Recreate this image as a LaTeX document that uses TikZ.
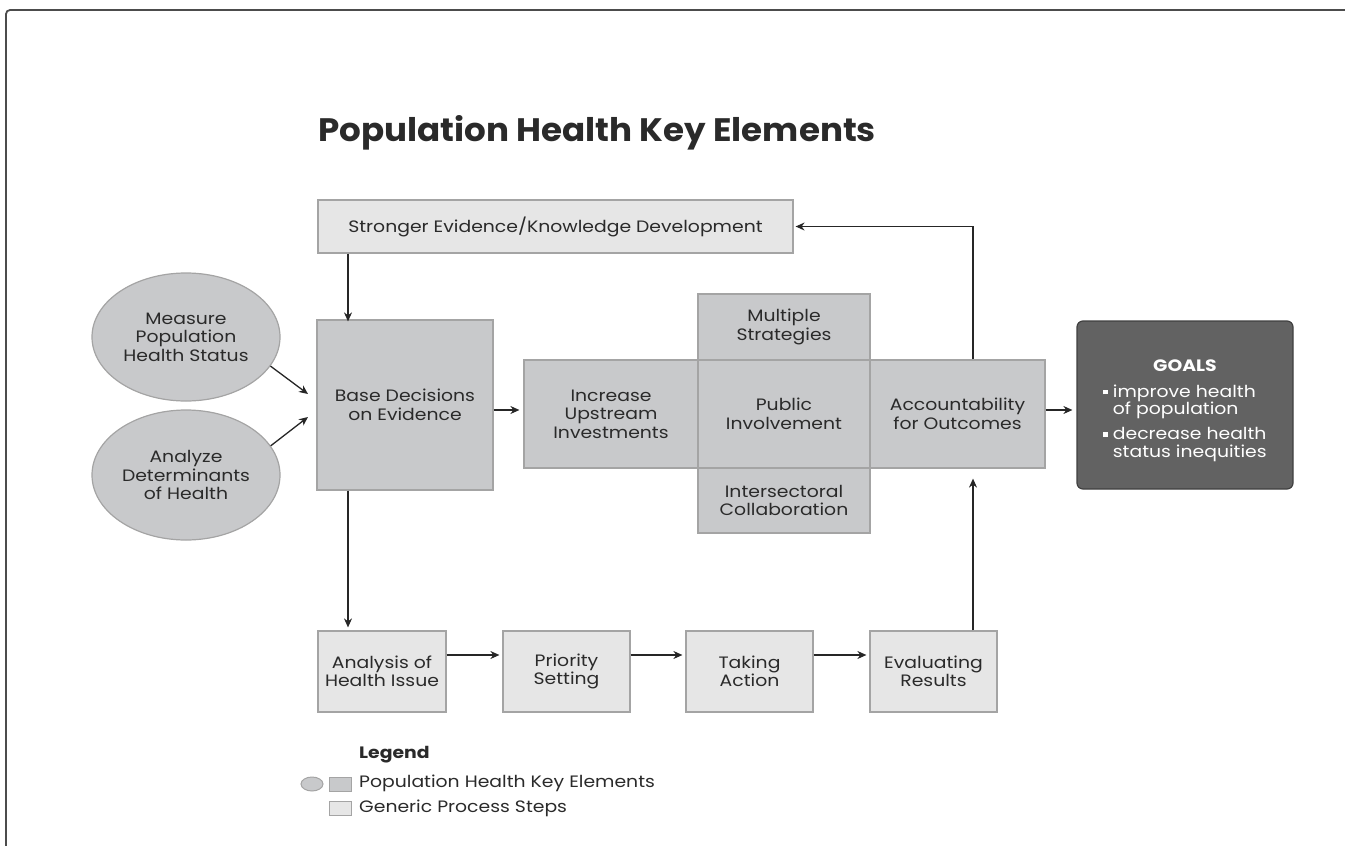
\documentclass[tikz,border=0pt]{standalone}
\usepackage{fontspec}
\setmainfont{Poppins}[FakeStretch=1.14]
\newfontfamily\titlefont{Poppins}[FakeStretch=1.05]
\usetikzlibrary{arrows.meta,shapes.geometric,calc}
\definecolor{keygray}{HTML}{C8C9CB}
\definecolor{stepgray}{HTML}{E6E6E6}
\definecolor{edgegray}{HTML}{A4A4A4}
\definecolor{goalgray}{HTML}{626262}
\definecolor{txt}{HTML}{2A2A2A}
\newcommand{\goalbullet}{\raisebox{3pt}{\rule{4.5pt}{4.5pt}}}
\begin{document}
\begin{tikzpicture}[x=1pt,y=-1pt,
  base/.style={inner sep=0pt, align=center, text=txt, font=\fontsize{16.5}{18.5}\selectfont, line width=1.2pt, draw=edgegray},
  keybox/.style={base, rectangle, fill=keygray},
  stepbox/.style={base, rectangle, fill=stepgray},
  keyell/.style={base, ellipse, fill=keygray},
  legtext/.style={anchor=west, font=\fontsize{16.5}{18.5}\selectfont, text=txt, inner sep=0pt},
  arr/.style={-{Stealth[length=9pt,width=8pt]}, line width=1.3pt, draw=black!85}
]
\useasboundingbox (0,0) rectangle (1345,846);
% frame
\draw[line width=1.8pt, black!70, rounded corners=4pt] (6,846) -- (6,10) -- (1345,10);

\node[anchor=west, font=\titlefont\fontsize{32.5}{36}\bfseries\selectfont, text=txt, inner sep=0pt] (title) at (318,133) {Population Health Key Elements};

\node[stepbox, minimum width=475, minimum height=53] (strong) at (555.5,226.5) {Stronger Evidence/Knowledge Development};
\node[keyell, minimum width=188, minimum height=128] (meas) at (186,337) {Measure\\Population\\Health Status};
\node[keyell, minimum width=188, minimum height=130] (anal) at (186,475) {Analyze\\Determinants\\of Health};
\node[keybox, minimum width=176, minimum height=170] (basedec) at (405,405) {Base Decisions\\on Evidence};
\node[keybox, minimum width=174, minimum height=108] (incr) at (611,414) {Increase\\Upstream\\Investments};
\node[keybox, minimum width=172, minimum height=108] (publ) at (784,414) {Public\\Involvement};
\node[keybox, minimum width=172, minimum height=66] (mult) at (784,327) {Multiple\\Strategies};
\node[keybox, minimum width=172, minimum height=65] (inter) at (784,500.5) {Intersectoral\\Collaboration};
\node[keybox, minimum width=175, minimum height=108] (acct) at (957.5,414) {Accountability\\for Outcomes};
\node[base, rectangle, rounded corners=6pt, fill=goalgray, draw=black!75, minimum width=216, minimum height=168, text=white,
      font=\fontsize{16.5}{16}\selectfont] (goals) at (1185,405)
 {\textbf{GOALS}\\[12pt]
  \begin{tabular}{@{}l@{\hspace{5pt}}l@{}}
  \goalbullet & improve health\\
   & of population\\[8pt]
  \goalbullet & decrease health\\
   & status inequities\\[-12pt]
  \end{tabular}};

\node[stepbox, minimum width=128, minimum height=81] (ahi) at (382,671.5) {Analysis of\\Health Issue};
\node[stepbox, minimum width=127, minimum height=81] (prio) at (566.5,671.5) {Priority\\Setting};
\node[stepbox, minimum width=127, minimum height=81] (take) at (749.5,671.5) {Taking\\Action};
\node[stepbox, minimum width=127, minimum height=81] (eval) at (933.5,671.5) {Evaluating\\Results};

% legend
\node[legtext, font=\fontsize{16.5}{18.5}\bfseries\selectfont] (leg) at (359,755) {Legend};
\node[keyell, minimum width=22, minimum height=14, line width=1pt] (lk1) at (312,784) {};
\node[keybox, minimum width=22, minimum height=14, line width=1pt] (lk2) at (340,784) {};
\node[stepbox, minimum width=22, minimum height=14, line width=1pt] (lk3) at (340,808.5) {};
\node[legtext] (lt1) at (359,783) {Population Health Key Elements};
\node[legtext] (lt2) at (359,808) {Generic Process Steps};

% connectors
\coordinate (cx1) at (348,0);
\coordinate (cx2) at (973,0);
\coordinate (ry1) at (0,410);
\coordinate (ry2) at (0,655);
\coordinate (m1) at (308,394);
\coordinate (m2) at (308,417);
\draw[arr] (strong.south -| cx1) -- ([yshift=-2pt]basedec.north -| cx1);
\draw[arr] (meas.-19) -- (m1);
\draw[arr] (anal.19) -- (m2);
\draw[arr, shorten >=4pt] (basedec.east |- ry1) -- (incr.west |- ry1);
\draw[arr, shorten >=4pt] (acct.east |- ry1) -- (goals.west |- ry1);
\draw[arr, shorten >=2pt] (acct.north -| cx2) |- (strong.east);
\draw[arr, shorten >=10pt] (eval.north -| cx2) -- (acct.south -| cx2);
\draw[arr, shorten >=3pt] (basedec.south -| cx1) -- (ahi.north -| cx1);
\draw[arr, shorten >=3pt] (ahi.east |- ry2) -- (prio.west |- ry2);
\draw[arr, shorten >=3pt] (prio.east |- ry2) -- (take.west |- ry2);
\draw[arr, shorten >=3pt] (take.east |- ry2) -- (eval.west |- ry2);
\end{tikzpicture}
\end{document}
